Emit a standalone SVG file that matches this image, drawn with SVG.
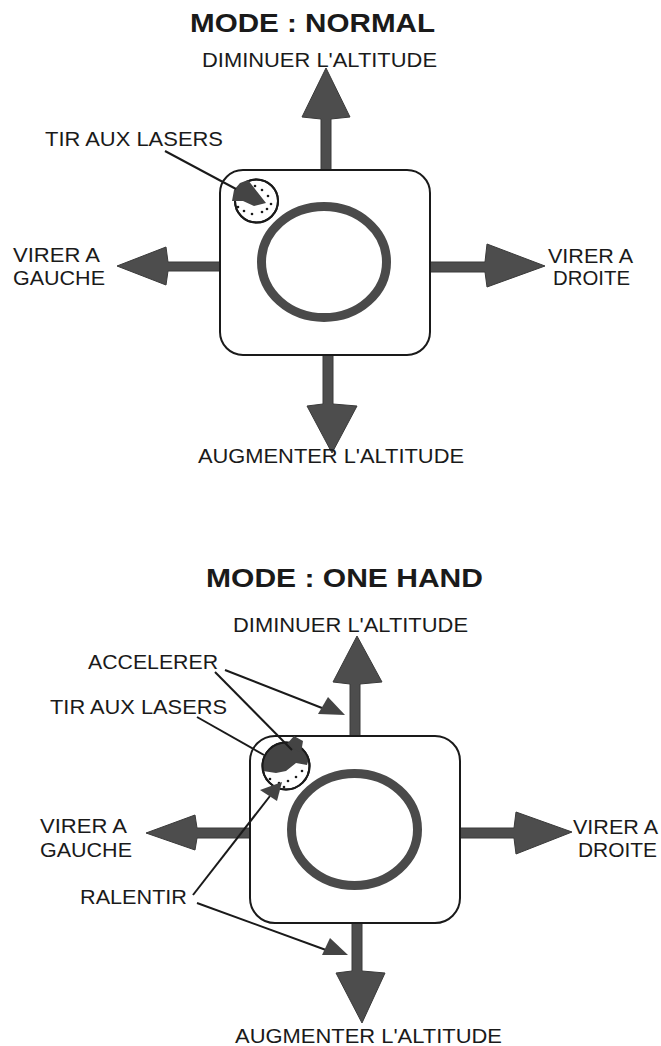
<svg xmlns="http://www.w3.org/2000/svg" width="661" height="1046" viewBox="0 0 661 1046">
<style>
text{font-family:"Liberation Sans",Arial,sans-serif;font-size:20px;fill:#1a1a1a}
.title{font-size:26px;font-weight:bold}
.arrow{fill:#4d4d4d;stroke:#3a3a3a;stroke-width:1}
.box{fill:#fff;stroke:#1a1a1a;stroke-width:2}
.ring{fill:none;stroke:#4a4a4a;stroke-width:9}
.btn{fill:#fff;stroke:#1a1a1a;stroke-width:2}
.lead{stroke:#1a1a1a;stroke-width:2;fill:none}
.head{fill:#444}
.dot{fill:#1a1a1a}
</style>
<defs>
<clipPath id="c1"><circle cx="256.5" cy="201" r="21.5"/></clipPath>
<clipPath id="c2"><circle cx="286" cy="766" r="23.5"/></clipPath>
</defs>
<rect width="661" height="1046" fill="#fff"/>

<!-- Diagram 1 -->
<g id="title1"><text class="title" x="190" y="32" textLength="245" lengthAdjust="spacingAndGlyphs">MODE : NORMAL</text></g>
<g id="arrows1">
<path class="arrow" d="M321,171 V119 L302,117 L326,68 L350,117 L331,119 V171 Z"/>
<path class="arrow" d="M220,262 H168 L166,247 L117,266 L166,285 L168,271 H220 Z"/>
<path class="arrow" d="M430,262 H485 L487,244 L545,266 L487,287 L485,272 H430 Z"/>
<path class="arrow" d="M323,354 V404 L307,406 L332,453 L357,406 L333,404 V354 Z"/>
</g>
<g id="device1">
<rect class="box" x="220" y="170" width="210" height="185" rx="23"/>
<ellipse class="ring" cx="324" cy="262" rx="62.5" ry="55.5"/>
</g>
<g id="button1">
<circle class="btn" cx="256.5" cy="201" r="21.5"/>
<g clip-path="url(#c1)">
<circle class="dot" cx="255" cy="186" r="1.3"/><circle class="dot" cx="262" cy="190" r="1.3"/>
<circle class="dot" cx="268" cy="196" r="1.3"/><circle class="dot" cx="271" cy="204" r="1.3"/>
<circle class="dot" cx="244" cy="211" r="1.3"/><circle class="dot" cx="252" cy="214" r="1.3"/>
<circle class="dot" cx="262" cy="212" r="1.3"/><circle class="dot" cx="238" cy="207" r="1.3"/>
<circle class="dot" cx="267" cy="209" r="1.3"/>
</g>
<circle cx="256.5" cy="201" r="21.5" fill="none" stroke="#1a1a1a" stroke-width="2"/>
<polygon class="head" points="232,201 234,190 240,183 248,180 266,203 254,206 243,201"/>
</g>
<g id="connectors1">
<line class="lead" x1="165" y1="151" x2="236" y2="189"/>
</g>
<g id="labels1">
<text x="202" y="67" textLength="235" lengthAdjust="spacingAndGlyphs">DIMINUER L'ALTITUDE</text>
<text x="45" y="146" textLength="178" lengthAdjust="spacingAndGlyphs">TIR AUX LASERS</text>
<text x="13" y="262" textLength="87" lengthAdjust="spacingAndGlyphs">VIRER A</text>
<text x="13" y="285" textLength="92" lengthAdjust="spacingAndGlyphs">GAUCHE</text>
<text x="548" y="263" textLength="85" lengthAdjust="spacingAndGlyphs">VIRER A</text>
<text x="553" y="285" textLength="77" lengthAdjust="spacingAndGlyphs">DROITE</text>
<text x="198" y="463" textLength="266" lengthAdjust="spacingAndGlyphs">AUGMENTER L'ALTITUDE</text>
</g>

<!-- Diagram 2 -->
<g id="title2"><text class="title" x="206" y="587" textLength="277" lengthAdjust="spacingAndGlyphs">MODE : ONE HAND</text></g>
<g id="arrows2">
<path class="arrow" d="M350,737 V684 L333,682 L357,636 L382,682 L360,684 V737 Z"/>
<path class="arrow" d="M250,828 H197 L195,815 L146,833 L195,850 L197,838 H250 Z"/>
<path class="arrow" d="M460,828 H514 L516,812 L572,832 L516,854 L514,838 H460 Z"/>
<path class="arrow" d="M352,922 V971 L336,973 L362,1023 L385,973 L362,971 V922 Z"/>
</g>
<g id="device2">
<rect class="box" x="250" y="736" width="210" height="187" rx="25"/>
<ellipse class="ring" cx="354.5" cy="829.5" rx="63" ry="56"/>
</g>
<g id="button2">
<circle class="btn" cx="286" cy="766" r="23.5"/>
<g clip-path="url(#c2)">
<polygon class="head" points="261,762 265,750 278,744 296,742 311,752 307,765 296,763 286,771 276,773 263,771"/>
<circle class="dot" cx="270" cy="779" r="1.3"/><circle class="dot" cx="279" cy="783" r="1.3"/>
<circle class="dot" cx="288" cy="781" r="1.3"/><circle class="dot" cx="296" cy="777" r="1.3"/>
<circle class="dot" cx="302" cy="771" r="1.3"/><circle class="dot" cx="284" cy="787" r="1.3"/>
</g>
<circle cx="286" cy="766" r="23.5" fill="none" stroke="#1a1a1a" stroke-width="2"/>
<polygon class="head" points="286,745 294,736 303,741 301,753"/>
</g>
<g id="connectors2">
<line class="lead" x1="225" y1="670" x2="322" y2="708"/>
<polygon class="head" points="318,714 328,697 345,715"/>
<line class="lead" x1="215" y1="672" x2="292" y2="750"/>
<line class="lead" x1="197" y1="717" x2="264" y2="755"/>
<line class="lead" x1="193" y1="895" x2="270" y2="796"/>
<polygon class="head" points="260,790 282,782 277,801"/>
<line class="lead" x1="197" y1="903" x2="326" y2="950"/>
<polygon class="head" points="322,955 330,938 348,955"/>
</g>
<g id="labels2">
<text x="233" y="632" textLength="235" lengthAdjust="spacingAndGlyphs">DIMINUER L'ALTITUDE</text>
<text x="88" y="669" textLength="130" lengthAdjust="spacingAndGlyphs">ACCELERER</text>
<text x="50" y="714" textLength="177" lengthAdjust="spacingAndGlyphs">TIR AUX LASERS</text>
<text x="40" y="833" textLength="87" lengthAdjust="spacingAndGlyphs">VIRER A</text>
<text x="40" y="857" textLength="92" lengthAdjust="spacingAndGlyphs">GAUCHE</text>
<text x="80" y="904" textLength="107" lengthAdjust="spacingAndGlyphs">RALENTIR</text>
<text x="573" y="834" textLength="85" lengthAdjust="spacingAndGlyphs">VIRER A</text>
<text x="578" y="857" textLength="79" lengthAdjust="spacingAndGlyphs">DROITE</text>
<text x="235" y="1043" textLength="267" lengthAdjust="spacingAndGlyphs">AUGMENTER L'ALTITUDE</text>
</g>
</svg>
